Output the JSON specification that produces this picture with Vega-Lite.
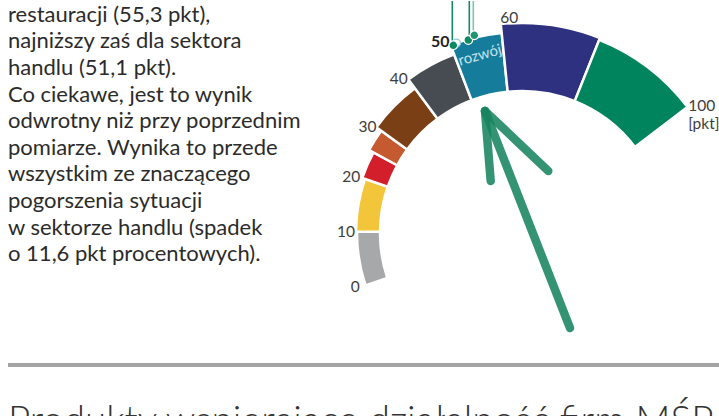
{
  "$schema": "https://vega.github.io/schema/vega-lite/v6.json",
  "padding": {"left": 8, "top": 0, "right": 0, "bottom": 0},
  "background": "white",
  "config": {"view": {"stroke": null}},
  "spacing": 17,
  "datasets": {
    "paragraph": [
      {"line": 1, "text": "restauracji (55,3 pkt),"},
      {"line": 2, "text": "najniższy zaś dla sektora"},
      {"line": 3, "text": "handlu (51,1 pkt)."},
      {"line": 4, "text": "Co ciekawe, jest to wynik"},
      {"line": 5, "text": "odwrotny niż przy poprzednim"},
      {"line": 6, "text": "pomiarze. Wynika to przede"},
      {"line": 7, "text": "wszystkim ze znaczącego"},
      {"line": 8, "text": "pogorszenia sytuacji"},
      {"line": 9, "text": "w sektorze handlu (spadek"},
      {"line": 10, "text": "o 11,6 pkt procentowych)."}
    ],
    "segments": [
      {"zone": "z1", "start": 0, "end": 10},
      {"zone": "z2", "start": 10, "end": 20},
      {"zone": "z3", "start": 20, "end": 25},
      {"zone": "z4", "start": 25, "end": 30},
      {"zone": "z5", "start": 30, "end": 40},
      {"zone": "z6", "start": 40, "end": 50},
      {"zone": "z7", "start": 50, "end": 60},
      {"zone": "z8", "start": 60, "end": 80},
      {"zone": "z9", "start": 80, "end": 100}
    ],
    "ticks": [
      {"value": 0, "label": "0", "side": "left"},
      {"value": 10, "label": "10", "side": "left"},
      {"value": 20, "label": "20", "side": "left"},
      {"value": 30, "label": "30", "side": "left"},
      {"value": 40, "label": "40", "side": "left"},
      {"value": 50, "label": "50", "side": "bold"},
      {"value": 60, "label": "60", "side": "right"},
      {"value": 100, "label": "100\n[pkt]", "side": "end"}
    ],
    "connectors": [
      {"id": "a", "x": -69.7, "y": 187.7, "top": 232, "tone": "dark"},
      {"id": "b", "x": -52.7, "y": 193, "top": 232, "tone": "dark"},
      {"id": "c", "x": -48.7, "y": 197.7, "top": 232, "tone": "light"}
    ],
    "dots": [
      {"id": "a", "x": -68.7, "y": 187.7, "tone": "dark"},
      {"id": "b", "x": -53.7, "y": 193, "tone": "dark"},
      {"id": "c", "x": -47.7, "y": 197.7, "tone": "mid"}
    ],
    "rings": [
      {"id": "prev", "x": -65.5, "y": 190}
    ],
    "arrow": [
      {"part": "shaft", "i": 0, "x": 48, "y": -95},
      {"part": "shaft", "i": 1, "x": -37, "y": 122},
      {"part": "left", "i": 0, "x": -37, "y": 122},
      {"part": "left", "i": 1, "x": -31.3, "y": 52},
      {"part": "right", "i": 0, "x": -37, "y": 122},
      {"part": "right", "i": 1, "x": 26.3, "y": 62}
    ]
  },
  "vconcat": [
    {
      "spacing": 0,
      "hconcat": [
        {
          "width": 300,
          "height": 345,
          "data": {"name": "paragraph"},
          "mark": {"type": "text", "align": "left", "baseline": "alphabetic", "font": "Lato", "fontSize": 22, "color": "#2b2b2b"},
          "encoding": {
            "x": {"datum": 0, "type": "quantitative", "scale": {"domain": [0, 1], "nice": false, "zero": false}, "axis": null},
            "y": {"field": "line", "type": "quantitative", "scale": {"domain": [0.222, 13.19], "reverse": true, "nice": false, "zero": false}, "axis": null},
            "text": {"field": "text"}
          }
        },
        {
          "width": 411,
          "height": 345,
          "resolve": {"scale": {"radius": "independent", "color": "independent"}},
          "layer": [
            {
              "data": {"name": "segments"},
              "mark": {"type": "arc", "innerRadius": 142, "stroke": "white", "strokeWidth": 2.5},
              "encoding": {
                "x": {"datum": 0, "type": "quantitative", "scale": {"domain": [-214, 197], "nice": false, "zero": false}, "axis": null},
                "y": {"datum": 0, "type": "quantitative", "scale": {"domain": [-113, 232], "nice": false, "zero": false}, "axis": null},
                "theta": {"field": "start", "type": "quantitative", "stack": null, "scale": {"type": "linear", "domain": [0, 10, 20, 25, 30, 40, 50, 60, 80, 100], "range": [-1.8937, -1.5621, -1.2392, -1.0734, -0.9425, -0.637, -0.363, -0.1012, 0.3805, 0.9198], "nice": false, "zero": false}},
                "theta2": {"field": "end"},
                "radius": {"field": "end", "type": "quantitative", "scale": {"type": "linear", "domain": [10, 20, 25, 30, 40, 50, 60, 80, 100], "range": [165, 166, 169, 174, 180, 191, 201, 210, 208], "nice": false, "zero": false}},
                "color": {"field": "zone", "type": "nominal", "legend": null, "scale": {"domain": ["z1", "z2", "z3", "z4", "z5", "z6", "z7", "z8", "z9"], "range": ["#a6a8aa", "#f2c53a", "#d21f2b", "#c55a30", "#7b3f16", "#464c51", "#157d9b", "#2e3080", "#00845d"]}}
              }
            },
            {
              "data": {"name": "ticks"},
              "transform": [{"filter": {"field": "side", "equal": "left"}}],
              "mark": {"type": "text", "align": "right", "baseline": "middle", "font": "Lato", "fontSize": 15.5, "color": "#3d3d3d"},
              "encoding": {
                "x": {"datum": 0, "type": "quantitative", "scale": {"domain": [-214, 197], "nice": false, "zero": false}, "axis": null},
                "y": {"datum": 0, "type": "quantitative", "scale": {"domain": [-113, 232], "nice": false, "zero": false}, "axis": null},
                "theta": {"field": "value", "type": "quantitative", "stack": null, "scale": {"type": "linear", "domain": [0, 10, 20, 25, 30, 40, 50, 60, 80, 100], "range": [-1.8937, -1.5621, -1.2392, -1.0734, -0.9425, -0.637, -0.363, -0.1012, 0.3805, 0.9198], "nice": false, "zero": false}},
                "radius": {"field": "value", "type": "quantitative", "scale": {"type": "linear", "domain": [0, 10, 20, 30, 40], "range": [171, 167, 171, 180, 192], "nice": false, "zero": false}},
                "text": {"field": "label"}
              }
            },
            {
              "data": {"name": "ticks"},
              "transform": [{"filter": {"field": "side", "equal": "bold"}}],
              "mark": {"type": "text", "align": "right", "baseline": "middle", "font": "Lato", "fontSize": 16, "fontWeight": "bold", "color": "#222222", "radius": 204},
              "encoding": {
                "x": {"datum": 0, "type": "quantitative", "scale": {"domain": [-214, 197], "nice": false, "zero": false}, "axis": null},
                "y": {"datum": 0, "type": "quantitative", "scale": {"domain": [-113, 232], "nice": false, "zero": false}, "axis": null},
                "theta": {"field": "value", "type": "quantitative", "stack": null, "scale": {"type": "linear", "domain": [0, 10, 20, 25, 30, 40, 50, 60, 80, 100], "range": [-1.8937, -1.5621, -1.2392, -1.0734, -0.9425, -0.637, -0.363, -0.1012, 0.3805, 0.9198], "nice": false, "zero": false}},
                "text": {"field": "label"}
              }
            },
            {
              "data": {"name": "ticks"},
              "transform": [{"filter": {"field": "side", "equal": "right"}}],
              "mark": {"type": "text", "align": "left", "baseline": "middle", "font": "Lato", "fontSize": 15.5, "color": "#3d3d3d", "radius": 216},
              "encoding": {
                "x": {"datum": 0, "type": "quantitative", "scale": {"domain": [-214, 197], "nice": false, "zero": false}, "axis": null},
                "y": {"datum": 0, "type": "quantitative", "scale": {"domain": [-113, 232], "nice": false, "zero": false}, "axis": null},
                "theta": {"field": "value", "type": "quantitative", "stack": null, "scale": {"type": "linear", "domain": [0, 10, 20, 25, 30, 40, 50, 60, 80, 100], "range": [-1.8937, -1.5621, -1.2392, -1.0734, -0.9425, -0.637, -0.363, -0.1012, 0.3805, 0.9198], "nice": false, "zero": false}},
                "text": {"field": "label"}
              }
            },
            {
              "data": {"name": "ticks"},
              "transform": [{"filter": {"field": "side", "equal": "end"}}],
              "mark": {"type": "text", "align": "left", "baseline": "middle", "font": "Lato", "fontSize": 15.5, "color": "#3d3d3d", "radius": 209, "lineBreak": "\n", "lineHeight": 18},
              "encoding": {
                "x": {"datum": 0, "type": "quantitative", "scale": {"domain": [-214, 197], "nice": false, "zero": false}, "axis": null},
                "y": {"datum": 0, "type": "quantitative", "scale": {"domain": [-113, 232], "nice": false, "zero": false}, "axis": null},
                "theta": {"field": "value", "type": "quantitative", "stack": null, "scale": {"type": "linear", "domain": [0, 10, 20, 25, 30, 40, 50, 60, 80, 100], "range": [-1.8937, -1.5621, -1.2392, -1.0734, -0.9425, -0.637, -0.363, -0.1012, 0.3805, 0.9198], "nice": false, "zero": false}},
                "text": {"field": "label"}
              }
            },
            {
              "data": {"values": [{"zone": "rozwój", "value": 55}]},
              "mark": {"type": "text", "align": "center", "baseline": "middle", "font": "Lato", "fontSize": 15, "color": "#c4e0ea", "radius": 183, "angle": -16},
              "encoding": {
                "x": {"datum": 0, "type": "quantitative", "scale": {"domain": [-214, 197], "nice": false, "zero": false}, "axis": null},
                "y": {"datum": 0, "type": "quantitative", "scale": {"domain": [-113, 232], "nice": false, "zero": false}, "axis": null},
                "theta": {"field": "value", "type": "quantitative", "stack": null, "scale": {"type": "linear", "domain": [0, 10, 20, 25, 30, 40, 50, 60, 80, 100], "range": [-1.8937, -1.5621, -1.2392, -1.0734, -0.9425, -0.637, -0.363, -0.1012, 0.3805, 0.9198], "nice": false, "zero": false}},
                "text": {"field": "zone"}
              }
            },
            {
              "data": {"name": "connectors"},
              "mark": {"type": "rule", "strokeWidth": 1.6},
              "encoding": {
                "x": {"field": "x", "type": "quantitative", "scale": {"domain": [-214, 197], "nice": false, "zero": false}, "axis": null},
                "y": {"field": "y", "type": "quantitative", "scale": {"domain": [-113, 232], "nice": false, "zero": false}, "axis": null},
                "y2": {"field": "top"},
                "color": {"field": "tone", "type": "nominal", "legend": null, "scale": {"domain": ["dark", "light"], "range": ["#138a60", "#7fc4a8"]}}
              }
            },
            {
              "data": {"name": "rings"},
              "mark": {"type": "point", "filled": false, "size": 60, "strokeWidth": 1.3, "color": "#8fc9dc", "fill": "white", "fillOpacity": 1},
              "encoding": {
                "x": {"field": "x", "type": "quantitative", "scale": {"domain": [-214, 197], "nice": false, "zero": false}, "axis": null},
                "y": {"field": "y", "type": "quantitative", "scale": {"domain": [-113, 232], "nice": false, "zero": false}, "axis": null}
              }
            },
            {
              "data": {"name": "dots"},
              "mark": {"type": "point", "filled": true, "size": 75, "stroke": "white", "strokeWidth": 1.2, "opacity": 1},
              "encoding": {
                "x": {"field": "x", "type": "quantitative", "scale": {"domain": [-214, 197], "nice": false, "zero": false}, "axis": null},
                "y": {"field": "y", "type": "quantitative", "scale": {"domain": [-113, 232], "nice": false, "zero": false}, "axis": null},
                "color": {"field": "tone", "type": "nominal", "legend": null, "scale": {"domain": ["dark", "mid"], "range": ["#0b8a5f", "#1f9670"]}}
              }
            },
            {
              "data": {"name": "arrow"},
              "mark": {"type": "line", "color": "#17845f", "strokeWidth": 8.5, "strokeCap": "round", "strokeJoin": "round", "opacity": 0.88},
              "encoding": {
                "x": {"field": "x", "type": "quantitative", "scale": {"domain": [-214, 197], "nice": false, "zero": false}, "axis": null},
                "y": {"field": "y", "type": "quantitative", "scale": {"domain": [-113, 232], "nice": false, "zero": false}, "axis": null},
                "detail": {"field": "part", "type": "nominal"},
                "order": {"field": "i", "type": "quantitative"}
              }
            }
          ]
        }
      ]
    },
    {
      "width": 711,
      "height": 4,
      "data": {"values": [{"element": "separator"}]},
      "mark": {"type": "rect", "color": "#a4a4a4"},
      "encoding": {}
    },
    {
      "width": 711,
      "height": 33,
      "data": {"values": [{"title": "Produkty wspierające działalność firm MŚP"}]},
      "mark": {"type": "text", "align": "left", "baseline": "alphabetic", "font": "Lato", "fontWeight": 300, "fontSize": 38.5, "color": "#333333", "dy": 33.5, "clip": true},
      "encoding": {
        "x": {"datum": 0, "type": "quantitative", "scale": {"domain": [0, 1], "nice": false, "zero": false}, "axis": null},
        "text": {"field": "title"}
      }
    }
  ]
}
